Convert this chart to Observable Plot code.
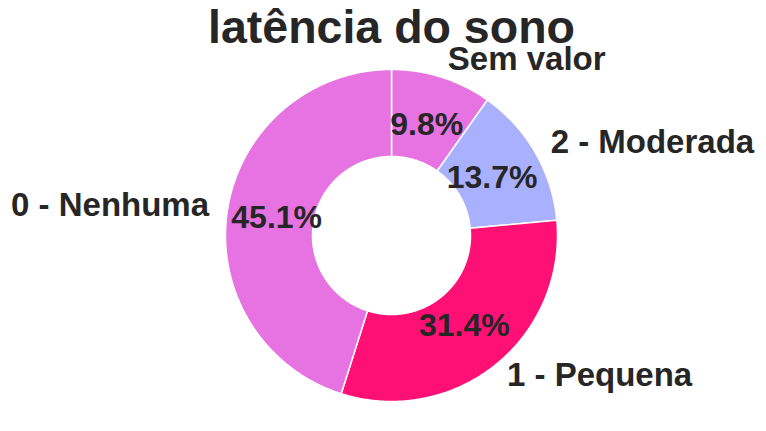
<!DOCTYPE html>
<html><head><meta charset="utf-8">
<script src="https://cdn.jsdelivr.net/npm/d3@7"></script>
<script src="https://cdn.jsdelivr.net/npm/@observablehq/plot@0.6"></script>
<style>body{margin:0;background:#fff}</style>
</head><body><div id="chart"></div>
<script>
// ---- data ----
const title = "latência do sono";
const categories = ["Sem valor", "2 - Moderada", "1 - Pequena", "0 - Nenhuma"];
const counts = [5, 7, 16, 23];
const palette = ["#e673e1", "#a9b1ff", "#ff1075", "#e673e1"];

// ---- layout ----
const W = 766, H = 431;
const cx = 391, cy = 235, R = 166;   // pixel centre and radius
const inner = 0.476;                 // hole radius (fraction of R)
const pctDist = 0.7, labelDist = 1.1;

const total = d3.sum(counts);
const arcs = d3.pie().sort(null).value(d => d)(counts); // clockwise from 12 o'clock

const pts = [];
arcs.forEach((a, i) => {
  const cat = categories[i];
  const n = Math.max(2, Math.ceil((a.endAngle - a.startAngle) / (Math.PI / 360)));
  const ring = [];
  for (let k = 0; k <= n; k++) {
    const t = a.startAngle + (a.endAngle - a.startAngle) * k / n;
    ring.push({cat, x: Math.sin(t), y: Math.cos(t)});
  }
  for (let k = n; k >= 0; k--) {
    const t = a.startAngle + (a.endAngle - a.startAngle) * k / n;
    ring.push({cat, x: inner * Math.sin(t), y: inner * Math.cos(t)});
  }
  ring.push(ring[0]);
  pts.push(...ring);
});

const labels = arcs.map((a, i) => {
  const m = (a.startAngle + a.endAngle) / 2;
  return {
    cat: categories[i],
    pct: d3.format(".1%")(counts[i] / total),
    px: pctDist * Math.sin(m), py: pctDist * Math.cos(m),
    lx: labelDist * Math.sin(m), ly: labelDist * Math.cos(m),
    right: Math.sin(m) >= 0
  };
});

const txt = "#262626";
const chart = Plot.plot({
  width: W, height: H,
  marginTop: 0, marginRight: 0, marginBottom: 0, marginLeft: 0,
  x: {domain: [-cx / R, (W - cx) / R], axis: null},
  y: {domain: [-(H - cy) / R, cy / R], axis: null},
  color: {domain: categories, range: palette},
  style: {fontFamily: "'Liberation Sans', Arial, sans-serif", background: "white", overflow: "visible"},
  marks: [
    Plot.line(pts, {x: "x", y: "y", z: "cat", fill: "cat", stroke: "white", strokeWidth: 1.5, curve: "linear"}),
    Plot.text(labels, {x: "px", y: "py", text: "pct", fontSize: 32, fontWeight: "bold", fill: txt}),
    Plot.text(labels, {filter: d => d.right, x: "lx", y: "ly", text: "cat", textAnchor: "start", dx: 1, dy: -2, fontSize: 33, fontWeight: "bold", fill: txt}),
    Plot.text(labels, {filter: d => !d.right, x: "lx", y: "ly", text: "cat", textAnchor: "end", dx: -2, dy: -2, fontSize: 33, fontWeight: "bold", fill: txt}),
    Plot.text([title], {x: [0], y: [(cy - 28) / R], text: d => d, fontSize: 46.5, fontWeight: "bold", fill: txt})
  ]
});
document.getElementById("chart").append(chart);
</script>
</body></html>
